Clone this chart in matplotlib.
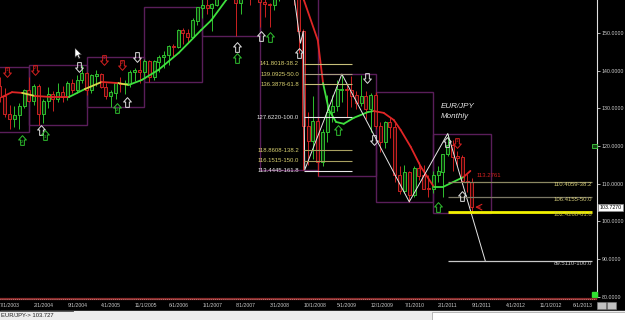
import numpy as np
import pandas as pd
import matplotlib
matplotlib.use('Agg')
import matplotlib.pyplot as plt
from matplotlib.patches import Rectangle, Polygon
from matplotlib.lines import Line2D
from matplotlib.path import Path
from matplotlib.transforms import blended_transform_factory

plt.rcParams['font.family'] = ['Liberation Sans', 'DejaVu Sans']

# monthly EUR/JPY bars, index 0 = Jan 2003 ... 104 = Sep 2011
opens = [124.6, 127.9, 127.2, 129.3, 132.9, 139.2, 135.9, 133.0, 128.4, 127.1, 128.2, 130.6,
         134.6, 132.0, 135.8, 128.4, 131.9, 133.6, 132.4, 134.2, 133.0, 136.6, 135.0, 137.4,
         139.2, 135.0, 138.6, 138.9, 135.6, 133.4, 134.1, 136.6, 136.4, 136.5, 139.6, 139.9,
         139.6, 142.5, 138.4, 142.3, 143.5, 144.1, 146.4, 146.3, 150.6, 149.9, 149.0, 153.3,
         156.7, 157.4, 156.6, 157.5, 163.3, 163.8, 166.8, 162.2, 157.9, 163.8, 167.0, 162.8,
         163.0, 158.1, 157.6, 157.5, 162.2, 164.1, 167.3, 168.5, 159.6, 150.4, 125.3, 121.4,
         126.6, 115.8, 123.6, 129.0, 130.6, 134.9, 135.1, 134.8, 133.4, 131.5, 133.0, 129.8,
         133.3, 125.3, 121.2, 126.3, 125.0, 112.2, 108.1, 112.9, 106.9, 113.9, 112.1, 108.7,
         108.6, 112.3, 113.1, 117.8, 120.2, 117.1, 116.9, 110.6, 110.4]
highs = [128.8, 129.6, 130.4, 133.4, 139.8, 140.9, 138.2, 135.5, 131.0, 130.6, 131.5, 135.2,
         138.2, 136.5, 136.4, 132.6, 135.6, 134.6, 136.6, 136.0, 137.2, 137.8, 138.8, 141.5,
         139.6, 139.2, 140.2, 139.3, 136.6, 134.8, 136.8, 138.2, 137.4, 140.2, 140.6, 143.6,
         143.2, 142.8, 142.9, 144.2, 145.2, 146.8, 147.2, 151.0, 151.2, 151.1, 154.0, 156.9,
         159.0, 160.0, 158.0, 164.0, 164.6, 168.0, 168.9, 163.5, 165.5, 168.0, 168.1, 166.5,
         164.0, 160.0, 158.0, 163.5, 164.6, 168.0, 169.9, 169.5, 160.5, 151.0, 129.1, 133.2,
         127.7, 124.6, 133.6, 133.6, 137.6, 139.1, 136.1, 138.6, 134.6, 138.9, 134.6, 134.1,
         134.4, 126.4, 126.6, 127.6, 126.1, 114.6, 114.9, 113.5, 114.6, 115.8, 115.0, 112.2,
         113.5, 114.6, 118.0, 123.32, 121.6, 118.6, 117.6, 112.6, 111.5]
lows = [123.7, 126.0, 125.1, 127.6, 131.6, 133.8, 131.8, 127.8, 124.6, 125.0, 124.4, 130.0,
        131.6, 131.0, 125.6, 126.2, 130.2, 129.4, 131.8, 131.6, 132.2, 134.0, 134.2, 136.6,
        133.6, 134.0, 135.9, 135.3, 132.4, 130.4, 132.6, 134.4, 133.8, 135.6, 137.2, 136.6,
        138.2, 137.0, 137.6, 139.6, 140.8, 141.6, 143.6, 146.0, 147.0, 147.4, 148.8, 152.0,
        154.0, 155.0, 150.6, 157.2, 161.0, 163.0, 161.0, 149.2, 155.0, 160.5, 157.5, 160.0,
        151.6, 154.2, 151.5, 156.0, 158.5, 162.0, 164.5, 157.5, 144.7, 113.7, 115.0, 116.5,
        112.1, 114.6, 121.0, 126.3, 129.4, 131.6, 127.7, 130.3, 129.8, 130.6, 127.1, 123.6,
        124.6, 118.3, 119.6, 122.2, 110.5, 107.4, 107.6, 105.2, 106.5, 110.9, 108.6, 106.6,
        107.6, 110.4, 106.6, 117.4, 113.5, 114.6, 110.0, 107.8, 102.3]
closes = [127.9, 127.2, 129.3, 132.9, 139.2, 135.9, 133.0, 128.4, 127.1, 128.2, 130.6, 134.6,
          132.0, 135.8, 128.4, 131.9, 133.6, 132.4, 134.2, 133.0, 136.6, 135.0, 137.4, 139.2,
          135.0, 138.6, 138.9, 135.6, 133.4, 134.1, 136.6, 136.4, 136.5, 139.6, 139.9, 139.6,
          142.5, 138.4, 142.3, 143.5, 144.1, 146.4, 146.3, 150.6, 149.9, 149.0, 153.3, 156.7,
          157.4, 156.6, 157.5, 163.3, 163.8, 166.8, 162.2, 157.9, 163.8, 167.0, 162.8, 163.0,
          158.1, 157.6, 157.5, 162.2, 164.1, 167.3, 168.5, 159.6, 150.4, 125.3, 121.4, 126.6,
          115.8, 123.6, 129.0, 130.6, 134.9, 135.1, 134.8, 133.4, 131.5, 133.0, 129.8, 133.3,
          125.3, 121.2, 126.3, 125.0, 112.2, 108.1, 112.9, 106.9, 113.9, 112.1, 108.7, 108.6,
          112.3, 113.1, 117.8, 120.2, 117.1, 116.9, 110.6, 110.4, 103.727]

# smoothed average (month index, price) and segment colours
ma_m = [6.4, 8.5, 10.6, 13.2, 16.8, 20.3, 23.6, 27.1, 30.6, 32.7, 35.4, 38.9, 43.1, 47.8,
        49.9, 53.0, 57, 61, 65, 69.1, 72.0, 73.1, 74.3, 75.8, 77.4, 79.5, 82.4, 83.6, 85.7,
        87.8, 89.2, 91.3, 93.4, 96.1, 98.1, 100.2, 102.3, 103.7]
ma_v = [133.0, 134.3, 134.1, 133.3, 133.0, 133.0, 135.1, 137.0, 136.7, 136.2, 137.5, 140.2,
        144.7, 150.8, 153.4, 158.8, 163.5, 166.0, 164.5, 158.8, 148.1, 136.7, 129.6, 126.4,
        125.9, 127.5, 129.0, 129.3, 128.8, 126.9, 124.3, 119.8, 114.5, 109.2, 109.2, 110.5,
        111.8, 113.4]
ma_colors = 'rryrrgyry' + 'g' * 8 + 'rrrr' + 'gggggg' + 'rrrrrr' + 'ggg' + 'r'

# zigzag swing points
zz_m = [66, 68.4, 69, 69.3, 77, 91, 99, 106.8]
zz_p = [169.9, 147.3, 150.4, 113.7, 139.1, 105.2, 123.32, 89.511]

# fibonacci levels
fib1_levels = [141.8018, 139.0925, 136.3878, 127.6220, 118.8608, 116.1515, 113.4445]
fib1_pcts = ['38.2', '50.0', '61.8', '100.0', '138.2', '150.0', '161.8']
fib2_levels = [110.4059, 106.4155, 102.4268, 89.5110]
fib2_pcts = ['38.2', '50.0', '61.8', '100.0']

tick_m = list(range(6, 130, 7))
tick_labels = ['7/1/2003', '2/1/2004', '9/1/2004', '4/1/2005', '11/1/2005', '6/1/2006',
               '1/1/2007', '8/1/2007', '3/1/2008', '10/1/2008', '5/1/2009', '12/1/2009',
               '7/1/2010', '2/1/2011', '9/1/2011', '4/1/2012', '11/1/2012', '6/1/2013']

# signal arrows
down_m = [7.4, 13.2, 22.4, 27.5, 31.3, 34.4, 82.2, 83.6, 101.0]
down_p = [139.7, 140.2, 141.0, 142.8, 141.5, 143.6, 138.1, 121.6, 120.8]
down_c = ['r', 'r', 'w', 'r', 'r', 'w', 'w', 'w', 'r']
down_n = ['1', '2', '', '1', '2', '', '', '', '1']
up_m = [10.6, 14.5, 15.3, 30.2, 32.3, 55.3, 55.3, 60.2, 62.1, 68.1, 76.2, 98.9, 96.9, 101.9]
up_p = [121.6, 124.3, 122.9, 130.1, 131.7, 146.3, 143.4, 149.2, 148.9, 144.7, 124.3, 121.1, 103.8, 106.8]
up_c = ['g', 'w', 'g', 'g', 'w', 'w', 'g', 'w', 'g', 'w', 'g', 'w', 'g', 'w']
up_n = ['2', '', '1', '2', '', '', '', '', '', '', '', '', '', '']

last_price = 103.727

W, H = 625, 320
fig = plt.figure(figsize=(6.25, 3.2), dpi=100, facecolor='black')
ax = fig.add_axes([0, 23 / H, 597 / W, 297 / H], facecolor='black')

df = pd.DataFrame({'o': opens, 'h': highs, 'l': lows, 'c': closes})
df['year'] = 2003 + df.index // 12

# yearly range boxes
for yr, g in df.groupby('year'):
    x0 = g.index.min()
    ax.add_patch(Rectangle((x0, g.l.min()), 12, g.h.max() - g.l.min(), fill=False,
                           ec='#5a1e5a', lw=1.0, zorder=2))

# candles
up = df.c >= df.o
for mask, edge, face in [(up, '#2fc02f', '#0c300c'), (~up, '#cc2222', '#300808')]:
    d = df[mask]
    ax.vlines(d.index, d.l, d.h, color=edge, lw=0.7, zorder=3)
    ax.bar(d.index, (d.c - d.o).abs() + 0.15, bottom=np.minimum(d.o, d.c), width=0.62,
           color=face, edgecolor=edge, linewidth=0.7, zorder=4)

# moving average
cmap = {'r': '#e02626', 'g': '#3ee03e', 'y': '#d8d84a'}
for i in range(len(ma_m) - 1):
    ax.plot(ma_m[i:i + 2], ma_v[i:i + 2], color=cmap[ma_colors[i]], lw=1.3,
            solid_capstyle='round', zorder=5)

# zigzag
ax.plot(zz_m, zz_p, color='#e6e6e6', lw=0.7, zorder=6)

# fibonacci set 1
fib1_colors = ['#c8c07a', '#a89c80', '#c8c07a', '#e8e8e8', '#a8a060', '#a8a060', '#e8e8e8']
fib1_txt = ['#d8d070', '#d8d070', '#d8d070', '#e8e8e8', '#d8d070', '#d8d070', '#e8e8e8']
ax.hlines(fib1_levels, 69.1, 79.1, colors=fib1_colors, lw=0.8, zorder=6)
for lv, pc, tc in zip(fib1_levels, fib1_pcts, fib1_txt):
    ax.text(68.1, lv, f'{lv:.4f}-{pc}', ha='right', va='center', fontsize=4.3, color=tc)

# fibonacci set 2
fib2_colors = ['#8c8862', '#7c7866', '#f2f200', '#c8c8c8']
fib2_lw = [0.9, 0.9, 2.0, 0.9]
fib2_txt = ['#d0c878', '#d0c878', '#c8c050', '#c8c8c8']
for lv, pc, lc, lw, tc in zip(fib2_levels, fib2_pcts, fib2_colors, fib2_lw, fib2_txt):
    ax.hlines(lv, 99, 129, colors=lc, lw=lw, zorder=6)
    ax.text(129, lv - 0.6, f'{lv:.4f}-{pc}', ha='right', va='center', fontsize=4.3, color=tc, zorder=7)

# hollow block arrows as markers
up_path = Path([(0, 1), (0.8, 0.1), (0.38, 0.1), (0.38, -1), (-0.38, -1), (-0.38, 0.1),
                (-0.8, 0.1), (0, 1)], closed=True)
down_path = Path([(x, -y) for x, y in up_path.vertices], closed=True)
acol = {'r': '#d42020', 'w': '#e0e0e0', 'g': '#30c030'}
for m, p, c, n in zip(down_m, down_p, down_c, down_n):
    ax.plot(m, p, marker=down_path, ms=7, mfc='none', mec=acol[c], mew=0.7, zorder=8)
    if n:
        ax.text(m, p + 0.6, n, ha='center', va='center', fontsize=3.2, color=acol[c], zorder=8)
for m, p, c, n in zip(up_m, up_p, up_c, up_n):
    ax.plot(m, p, marker=up_path, ms=7, mfc='none', mec=acol[c], mew=0.7, zorder=8)
    if n:
        ax.text(m, p - 0.6, n, ha='center', va='center', fontsize=3.2, color=acol[c], zorder=8)

ax.text(104.9, 112.2, '113.2761', fontsize=4.3, color='#d42020', va='center', zorder=8)
ax.annotate('', xy=(104.1, 103.8), xytext=(106.3, 103.8),
            arrowprops=dict(arrowstyle='->', color='#d42020', lw=0.8), zorder=8)
ax.text(97.5, 130.4, 'EUR/JPY', fontsize=5.8, style='italic', color='#e6e6e6', va='center')
ax.text(97.5, 127.9, 'Monthly', fontsize=5.8, style='italic', color='#e6e6e6', va='center')

# axes
ax.set_xlim(6.41, 130.0)
ax.set_ylim(79.95, 158.75)
for s in ['top', 'left', 'bottom']:
    ax.spines[s].set_visible(False)
ax.spines['right'].set_color('#e0e0e0')
ax.spines['right'].set_linewidth(0.8)
ax.yaxis.tick_right()
ax.set_yticks(range(80, 151, 10))
ax.set_yticklabels([f'{v:.4f}' for v in range(80, 151, 10)])
ax.tick_params(axis='y', colors='#d0d0d0', labelsize=3.8, length=2, width=0.6, pad=1.5)
ax.set_xticks(tick_m)
ax.set_xticklabels(tick_labels, ha='left')
ax.tick_params(axis='x', colors='#c8c8c8', labelsize=3.7, length=0, pad=4.2)

tr = blended_transform_factory(ax.transAxes, ax.transData)
ax.text(1.004, last_price, '103.7270', transform=tr, fontsize=3.8, color='black', va='center',
        ha='left', bbox=dict(boxstyle='square,pad=0.25', fc='white', ec='#909090', lw=0.5))

# window chrome
def px(x, y):
    return (x / W, 1 - y / H)

fig.add_artist(Line2D([0, 596 / W], [1 - 298.5 / H] * 2, color='#8a2a2a', lw=1.6))
fig.add_artist(Line2D([0, 596 / W], [1 - 298.5 / H] * 2, color='#e0c0c0', lw=0.5,
                      linestyle=(0, (1, 2))))
fig.add_artist(Rectangle((0, 0), 1, 9 / H, transform=fig.transFigure, color='#ececec'))
fig.add_artist(Line2D([0, 73 / W], [1 - 311 / H] * 2, color='#404040', lw=0.6))
fig.add_artist(Rectangle(px(432, 320), 193 / W, 8 / H, transform=fig.transFigure,
                         fc='white', ec='#a0a0a0', lw=0.5))
fig.text(1 / W, 1 - 315.8 / H, 'EUR/JPY-> 103.727', fontsize=4.2, color='#202020', va='center')
fig.add_artist(Rectangle(px(597, 309), 9 / W, 7 / H, transform=fig.transFigure,
                         fc='#c0c0c0', ec='#808080', lw=0.4))
fig.add_artist(Rectangle(px(607, 309), 9 / W, 7 / H, transform=fig.transFigure,
                         fc='#c0c0c0', ec='#808080', lw=0.4))
fig.add_artist(Rectangle(px(592, 297), 5 / W, 5 / H, transform=fig.transFigure, color='#30e030'))
fig.add_artist(Rectangle(px(592, 147.5), 5 / W, 4 / H, transform=fig.transFigure,
                         fc='#104010', ec='#40d040', lw=0.6))
cursor = [px(75, 48), px(75, 57.5), px(77.3, 55.3), px(78.8, 58.6), px(80.2, 58),
          px(78.7, 54.8), px(81.6, 54.6)]
fig.add_artist(Polygon(cursor, closed=True, transform=fig.transFigure, fc='white',
                       ec='#202020', lw=0.4))

fig.savefig('out.png', dpi=100, facecolor='black')
